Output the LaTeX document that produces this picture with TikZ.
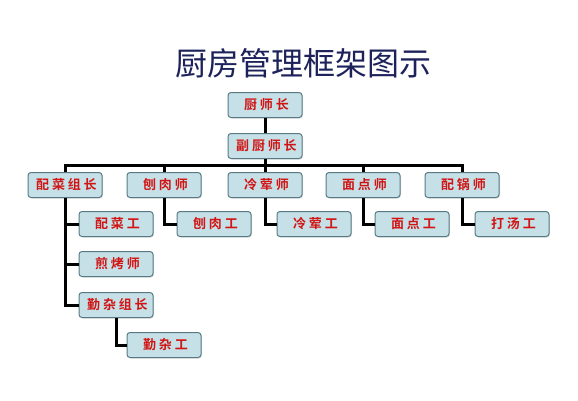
\documentclass[tikz,border=0pt]{standalone}
\usepackage{fontspec}
\setmainfont{Noto Sans CJK SC}
\newfontfamily\cjkbold[LetterSpace=22]{Noto Sans CJK SC Bold}
\usetikzlibrary{positioning, shadows}
\definecolor{boxblue}{RGB}{197, 224, 230}
\definecolor{boxedge}{RGB}{88, 122, 132}
\definecolor{titlenavy}{RGB}{30, 34, 90}
\definecolor{textred}{RGB}{210, 20, 20}

\begin{document}
\begin{tikzpicture}[x=1pt,y=-1pt,
	post/.style={draw=boxedge,fill=boxblue,line width=1pt,rounded corners=3pt,
		minimum width=74pt,minimum height=25pt,inner sep=0pt,
		font=\cjkbold\fontsize{13}{13}\selectfont,text=textred,
		execute at begin node={\hspace{2.9pt}},
		drop shadow={shadow xshift=1pt,shadow yshift=-1pt,opacity=0.25}},
	link/.style={line width=3pt,black}]
	\useasboundingbox (0,0) rectangle (578,400);

	% title
	\node[titlenavy,font=\fontsize{32}{32}\selectfont] (title) at (303,63) {厨房管理框架图示};

	% chief and deputy
	\node[post] (chief) at (265,105) {厨师长};
	\node[post] (deputy) at (265,146) {副厨师长};

	% sections
	\node[post] (pcz) at (65,185) {配菜组长};
	\node[post] (brs) at (164,185) {刨肉师};
	\node[post] (lhs) at (265,185) {冷荤师};
	\node[post] (mds) at (363,185) {面点师};
	\node[post] (pgs) at (462,185) {配锅师};

	% workers
	\node[post] (pcg) at (116,224) {配菜工};
	\node[post] (brg) at (214,224) {刨肉工};
	\node[post] (lhg) at (314,224) {冷荤工};
	\node[post] (mdg) at (412,224) {面点工};
	\node[post] (dtg) at (512,224) {打汤工};
	\node[post] (jks) at (116,264) {煎烤师};
	\node[post] (qzz) at (116,305) {勤杂组长};
	\node[post] (qzg) at (164,345) {勤杂工};

	\coordinate (bar) at (0,165);

	% connectors
	\draw[link] (chief) -- (deputy);
	\draw[link] (deputy.south) -- (deputy.south |- bar);
	\draw[link,line cap=rect] (pcz.north |- bar) -- (pgs.north |- bar);
	\foreach \s in {pcz,brs,lhs,mds,pgs}
		\draw[link] (\s.north |- bar) -- (\s.north);
	\foreach \s/\w in {brs/brg,lhs/lhg,mds/mdg,pgs/dtg}
		\draw[link] (\s.south) |- (\w.west);
	\draw[link] (pcz.south) |- (qzz.west);
	\foreach \w in {pcg,jks}
		\draw[link] (pcz.south |- \w.west) -- (\w.west);
	\draw[link] (qzz.south) |- (qzg.west);
\end{tikzpicture}
\end{document}
